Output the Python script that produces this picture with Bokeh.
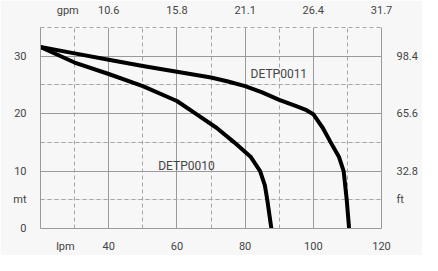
from bokeh.plotting import figure
from bokeh.models import Range1d, LinearAxis, FixedTicker, Grid
from bokeh.embed import file_html
from bokeh.resources import INLINE
from bokeh.core.properties import value

# ---- data ----
lpm_ticks = [40, 60, 80, 100, 120]
gpm_labels = ["10.6", "15.8", "21.1", "26.4", "31.7"]
m_ticks = [0, 10, 20, 30]
ft_labels = ["32.8", "65.6", "98.4"]
minor_lpm = [30, 50, 70, 90, 110]
minor_m = [5, 15, 25]

# unit captions and where they sit along each axis
unit_top, unit_top_at = "gpm", 28.0
unit_bottom, unit_bottom_at = "lpm", 27.3
unit_left, unit_left_at = "mt", 5
unit_right, unit_right_at = "ft", 5

# DETP0011 curve (flow lpm, head m)
q11 = [20, 30, 40, 50, 60, 70, 75, 80, 85, 90, 95, 98, 100, 102.8, 105.1, 107.5, 108.9, 109.8, 110.5]
h11 = [31.6, 30.5, 29.4, 28.3, 27.3, 26.3, 25.6, 24.8, 23.7, 22.4, 21.3, 20.6, 19.9, 17.5, 15.0, 12.5, 10.0, 5.0, 0.0]
# DETP0010 curve
q10 = [20, 30, 40, 50, 60, 65.5, 71.7, 76.8, 81.6, 84.4, 85.8, 86.5, 87.7]
h10 = [31.6, 28.9, 26.9, 24.8, 22.2, 20.0, 17.5, 15.0, 12.5, 10.0, 7.5, 5.0, 0.0]

names = ["DETP0011", "DETP0010"]
name_x = [89.9, 62.8]
name_y = [26.9, 10.9]

FONT = "Roboto"
TXT = "#444444"
BG = "#f7f7f7"
GRID = "#9a9a9a"
DASH = "#a5a5a5"

p = figure(width=422, height=255, x_range=Range1d(20, 120), y_range=Range1d(0, 35),
           output_backend="svg", toolbar_location=None,
           x_axis_location=None, y_axis_location=None,
           min_border_left=40, min_border_right=41, min_border_top=26, min_border_bottom=19)
p.background_fill_color = BG
p.border_fill_color = BG
p.outline_line_color = None

# grids
p.add_layout(Grid(dimension=0, ticker=FixedTicker(ticks=lpm_ticks[:-1]), grid_line_color=GRID, grid_line_width=1))
p.add_layout(Grid(dimension=1, ticker=FixedTicker(ticks=m_ticks[1:]), grid_line_color=GRID, grid_line_width=1))
p.add_layout(Grid(dimension=0, ticker=FixedTicker(ticks=minor_lpm), grid_line_color=DASH, grid_line_dash="4 3"))
p.add_layout(Grid(dimension=1, ticker=FixedTicker(ticks=minor_m), grid_line_color=DASH, grid_line_dash="4 3"))

def style(ax):
    ax.major_label_text_font = FONT
    ax.major_label_text_font_size = "11px"
    ax.major_label_text_color = TXT
    ax.minor_tick_line_color = None
    ax.major_tick_line_color = None
    ax.axis_line_color = GRID

bottom = LinearAxis(ticker=FixedTicker(ticks=[unit_bottom_at] + lpm_ticks),
                    major_label_overrides={unit_bottom_at: unit_bottom})
style(bottom)
bottom.major_label_standoff = 5
p.add_layout(bottom, "below")

top_over = {t: s for t, s in zip(lpm_ticks, gpm_labels)}
top_over[unit_top_at] = unit_top
top = LinearAxis(ticker=FixedTicker(ticks=[unit_top_at] + lpm_ticks), major_label_overrides=top_over)
style(top)
top.axis_line_color = DASH
top.axis_line_dash = "4 3"
top.major_label_standoff = 5
p.add_layout(top, "above")

left = LinearAxis(ticker=FixedTicker(ticks=sorted(m_ticks + [unit_left_at])),
                  major_label_overrides={unit_left_at: unit_left})
style(left)
left.major_label_standoff = 8
p.add_layout(left, "left")

right_over = {t: s for t, s in zip(m_ticks[1:], ft_labels)}
right_over[unit_right_at] = unit_right
right = LinearAxis(ticker=FixedTicker(ticks=sorted(m_ticks[1:] + [unit_right_at])),
                   major_label_overrides=right_over)
style(right)
right.major_label_standoff = 9
p.add_layout(right, "right")

# curves
p.line(q11, h11, line_color="black", line_width=4, line_join="round", line_cap="round")
p.line(q10, h10, line_color="black", line_width=4, line_join="round", line_cap="round")

p.text(name_x, name_y, text=names, text_font=value(FONT), text_font_size="12px",
       text_color=TXT, text_align="center", text_baseline="middle")

open("out.html", "w").write(file_html(p, INLINE))
